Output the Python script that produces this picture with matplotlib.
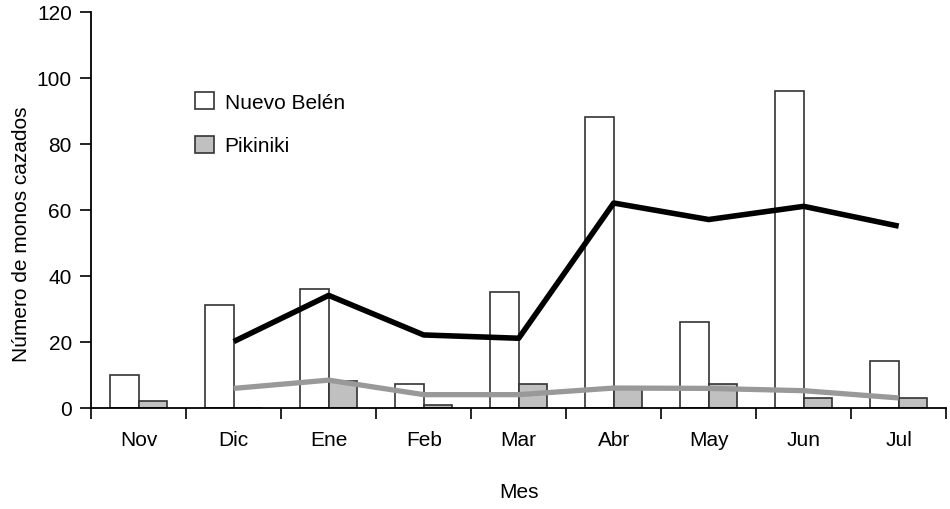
"""Monos cazados por mes: Nuevo Belén vs Pikiniki."""

import matplotlib

matplotlib.use("Agg")
import matplotlib.pyplot as plt
import numpy as np
from matplotlib.ticker import FixedLocator

meses = ["Nov", "Dic", "Ene", "Feb", "Mar", "Abr", "May", "Jun", "Jul"]
nuevo_belen = [10, 31, 36, 7, 35, 88, 26, 96, 14]
pikiniki = [2, 0, 8, 0.8, 7, 6, 7, 3, 3]
# trend lines start at Dic
nb_linea = [20, 34, 22, 21, 62, 57, 61, 55]
pk_linea = [5.8, 8.3, 3.9, 3.9, 5.9, 5.8, 5.1, 2.9]

plt.rcParams["font.family"] = ["Liberation Sans", "DejaVu Sans"]

fig = plt.figure(figsize=(9.5, 5.1), dpi=100)
ax = fig.add_axes([0.096, 0.199, 0.9, 0.776])

x = np.arange(len(meses))
w = 0.3
ax.bar(x, nuevo_belen, width=-w, align="edge", color="white",
       edgecolor="#333333", linewidth=1.2, label="Nuevo Belén", zorder=2)
ax.bar(x, pikiniki, width=w, align="edge", color="#c0c0c0",
       edgecolor="#333333", linewidth=1.2, label="Pikiniki", zorder=2)

ax.plot(x[1:], nb_linea, color="black", linewidth=4.0, zorder=3,
        solid_capstyle="butt")
ax.plot(x[1:], pk_linea, color="#999999", linewidth=3.8, zorder=3,
        solid_capstyle="butt")

ax.set_xlim(-0.5, len(meses) - 0.5)
ax.set_ylim(0, 120)
ax.set_yticks(range(0, 121, 20))
ax.set_xticks(x)
ax.set_xticklabels(meses)
ax.xaxis.set_minor_locator(FixedLocator(np.arange(-0.5, len(meses), 1.0)))
ax.tick_params(axis="x", which="major", length=0, pad=16, labelsize=15)
ax.tick_params(axis="x", which="minor", length=8, width=1.2, direction="out")
ax.tick_params(axis="y", length=8, width=1.2, labelsize=15, pad=6)

for s in ("top", "right"):
    ax.spines[s].set_visible(False)
for s in ("left", "bottom"):
    ax.spines[s].set_linewidth(1.3)

ax.set_xlabel("Mes", fontsize=15, labelpad=24)
ax.set_ylabel("Número de monos cazados", fontsize=15)
ax.yaxis.set_label_coords(-0.07, 0.44)

ax.legend(loc="upper left", bbox_to_anchor=(0.1, 0.845), frameon=False,
          fontsize=15, handlelength=0.9, handleheight=0.9,
          handletextpad=0.5, labelspacing=1.15)

fig.savefig("out.png", dpi=100)
